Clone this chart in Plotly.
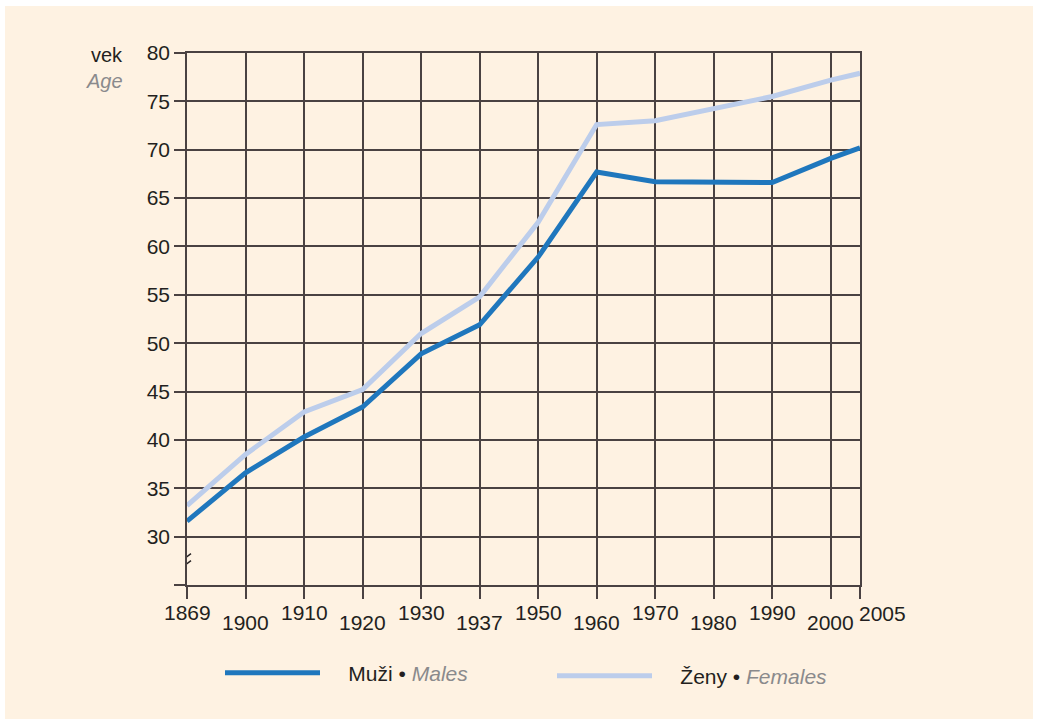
import plotly.graph_objects as go

years = ["1869", "1900", "1910", "1920", "1930", "1937", "1950", "1960", "1970", "1980", "1990", "2000", "2005"]
# position of each year on the (non-uniform) axis: equal steps, 2005 half a step after 2000
xpos = [0, 1, 2, 3, 4, 5, 6, 7, 8, 9, 10, 11, 11.5]
males = [31.6, 36.6, 40.3, 43.4, 48.9, 51.9, 58.9, 67.7, 66.7, 66.7, 66.6, 69.1, 70.2]
females = [33.2, 38.5, 42.9, 45.2, 51.0, 54.8, 62.5, 72.6, 73.0, 74.3, 75.5, 77.2, 77.9]
yticks = [25, 30, 35, 40, 45, 50, 55, 60, 65, 70, 75, 80]
ytick_text = ["", "30", "35", "40", "45", "50", "55", "60", "65", "70", "75", "80"]

CREAM = "#FEF2E2"
GRID = "#4a4242"
TXT = "#231f20"
GRAY = "#8a8a8c"
BLUE = "#1f77bd"
LIGHT = "#bccdeb"
FONT = "Liberation Sans, Arial, sans-serif"
PAD = "\u00a0\u00a0\u00a0\u00a0"

fig = go.Figure()
fig.add_trace(go.Scatter(
    x=xpos, y=males, mode="lines", line=dict(color=BLUE, width=5), legend="legend",
    name=f"{PAD}Muži • <i><span style='color:{GRAY}'>Males</span></i>", cliponaxis=False))
fig.add_trace(go.Scatter(
    x=xpos, y=females, mode="lines", line=dict(color=LIGHT, width=5), legend="legend2",
    name=f"{PAD}Ženy • <i><span style='color:{GRAY}'>Females</span></i>", cliponaxis=False))

L, R, T, B = 187, 178, 53, 134
W, H = 1038, 719
pw, ph = W - L - R, H - T - B

def px_x(p):
    return (p - L) / pw

def px_y(p):
    return (H - B - p) / ph

shapes = [
    dict(type="rect", xref="paper", yref="paper", layer="below",
         x0=px_x(5), x1=px_x(1033), y0=px_y(722), y1=px_y(6),
         fillcolor=CREAM, line=dict(width=0)),
    # axis break marks
    dict(type="line", xref="x", yref="y", x0=-0.068, x1=0.068, y0=27.62, y1=28.24,
         line=dict(color=TXT, width=1.5)),
    dict(type="line", xref="x", yref="y", x0=-0.068, x1=0.068, y0=26.9, y1=27.52,
         line=dict(color=TXT, width=1.5)),
]

annotations = []
for i, (xp, lab) in enumerate(zip(xpos, years)):
    shift = -27 if i % 2 == 0 else -37
    anchor, xs = "center", 0
    if lab == "2005":
        shift, anchor, xs = -28, "left", -3
    annotations.append(dict(x=xp, y=0, xref="x", yref="paper", text=lab, showarrow=False,
                            xanchor=anchor, xshift=xs, yanchor="middle", yshift=shift,
                            font=dict(size=21, color=TXT, family=FONT)))
annotations.append(dict(x=px_x(125), y=px_y(55), xref="paper", yref="paper", text="vek",
                        showarrow=False, xanchor="right", yanchor="middle",
                        font=dict(size=20, color=TXT, family=FONT)))
annotations.append(dict(x=px_x(125), y=px_y(81), xref="paper", yref="paper", text="<i>Age</i>",
                        showarrow=False, xanchor="right", yanchor="middle",
                        font=dict(size=20, color=GRAY, family=FONT)))

legend_common = dict(orientation="h", xanchor="left", yanchor="middle",
                     bgcolor="rgba(0,0,0,0)", itemwidth=95,
                     font=dict(size=21, color=TXT, family=FONT))

fig.update_layout(
    width=W, height=H,
    margin=dict(l=L, r=R, t=T, b=B),
    paper_bgcolor="white", plot_bgcolor=CREAM,
    font=dict(family=FONT, color=TXT, size=21),
    shapes=shapes, annotations=annotations,
    showlegend=True,
    legend=dict(x=px_x(220), y=px_y(673), **legend_common),
    legend2=dict(x=px_x(552), y=px_y(676), **legend_common),
    xaxis=dict(range=[0, 11.5], tickvals=xpos, showticklabels=False,
               ticks="outside", ticklen=12, tickwidth=1.5, tickcolor=GRID,
               showgrid=True, gridcolor=GRID, gridwidth=1.5,
               showline=True, linecolor=GRID, linewidth=1.5, mirror=True, zeroline=False),
    yaxis=dict(range=[25, 80], tickvals=yticks, ticktext=ytick_text,
               ticks="outside", ticklen=11, tickwidth=1.5, tickcolor=GRID,
               ticklabelstandoff=0,
               showgrid=True, gridcolor=GRID, gridwidth=1.5,
               showline=True, linecolor=GRID, linewidth=1.5, mirror=True, zeroline=False,
               tickfont=dict(size=21, color=TXT, family=FONT)),
)

fig.write_html("out.html", config={"displayModeBar": False},
               post_script="document.body.style.margin='0px';")
